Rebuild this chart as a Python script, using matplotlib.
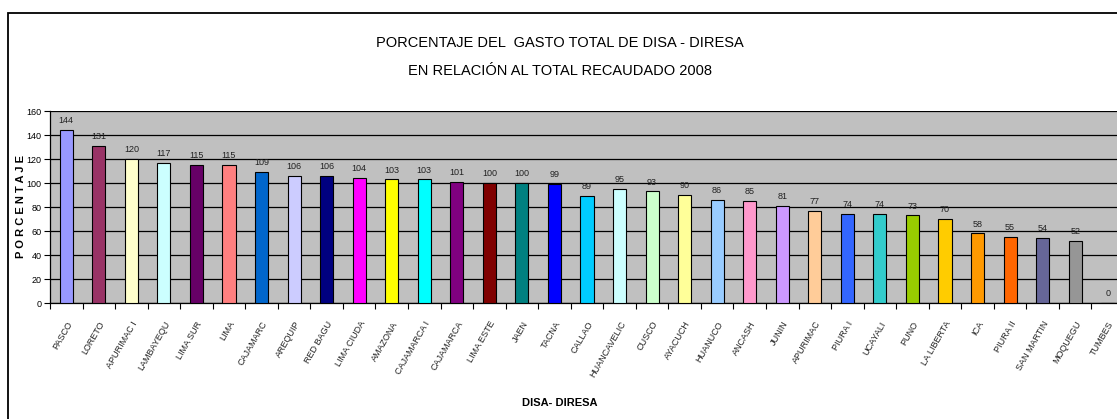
import matplotlib
matplotlib.use("Agg")
import matplotlib.pyplot as plt
from matplotlib.patches import Rectangle
import numpy as np

categories = ["PASCO", "LORETO", "APURIMAC I", "LAMBAYEQU", "LIMA SUR", "LIMA",
              "CAJAMARC", "AREQUIP", "RED BAGU", "LIMA CIUDA", "AMAZONA",
              "CAJAMARCA I", "CAJAMARCA", "LIMA ESTE", "JAEN", "TACNA", "CALLAO",
              "HUANCAVELIC", "CUSCO", "AYACUCH", "HUANUCO", "ANCASH", "JUNIN",
              "APURIMAC", "PIURA I", "UCAYALI", "PUNO", "LA LIBERTA", "ICA",
              "PIURA II", "SAN MARTIN", "MOQUEGU", "TUMBES"]
values = [144, 131, 120, 117, 115, 115, 109, 106, 106, 104, 103, 103, 101, 100,
          100, 99, 89, 95, 93, 90, 86, 85, 81, 77, 74, 74, 73, 70, 58, 55, 54, 52, 0]
colors = ["#9999FF", "#993366", "#FFFFCC", "#CCFFFF", "#660066", "#FF8080",
          "#0066CC", "#CCCCFF", "#000080", "#FF00FF", "#FFFF00", "#00FFFF",
          "#800080", "#800000", "#008080", "#0000FF", "#00CCFF", "#CCFFFF",
          "#CCFFCC", "#FFFF99", "#99CCFF", "#FF99CC", "#CC99FF", "#FFCC99",
          "#3366FF", "#33CCCC", "#99CC00", "#FFCC00", "#FF9900", "#FF6600",
          "#666699", "#969696", "#003366"]
yticks = [0, 20, 40, 60, 80, 100, 120, 140, 160]

FONT = ["Liberation Sans", "DejaVu Sans"]
plt.rcParams['font.family'] = FONT

W, H = 1117, 419
fig = plt.figure(figsize=(W / 100, H / 100), dpi=100)
fig.patch.set_facecolor("white")

# outer chart frame (extends past right and bottom edges)
top = 1 - 13 / H
fig.patches.append(Rectangle((8 / W, -0.2), 1.2, top + 0.2,
                             transform=fig.transFigure, fill=False,
                             edgecolor="black", linewidth=1.3, zorder=0))

ax = fig.add_axes([50 / W, 1 - 303 / H, (1124 - 50) / W, (303 - 111) / H])
ax.set_facecolor("#C0C0C0")
x = np.arange(len(categories))
ax.bar(x, values, width=0.4, color=colors, edgecolor="black", linewidth=0.8, zorder=3)

for xi, v in zip(x, values):
    ax.text(xi, v + 4, str(v), ha="center", va="bottom", fontsize=6.5,
            color="#222222", zorder=4)

ax.set_xlim(-0.5, len(categories) - 0.5)
ax.set_ylim(0, 160)
ax.set_yticks(yticks)
ax.set_yticklabels([str(t) for t in yticks], fontsize=6.5)
ax.yaxis.grid(True, color="black", linewidth=0.9, zorder=1)
ax.set_axisbelow(True)

ax.set_xticks(x)
ax.set_xticklabels(categories, rotation=60, ha="right", rotation_mode="anchor",
                   fontsize=6.5, color="#222222")
ax.tick_params(axis="x", which="major", length=0, pad=12)
ax.set_xticks(np.arange(len(categories) + 1) - 0.5, minor=True)
ax.tick_params(axis="x", which="minor", length=4, direction="out", width=0.8)
ax.tick_params(axis="y", length=4, width=0.8, pad=2)

for s in ["top", "right"]:
    ax.spines[s].set_visible(False)
ax.spines["left"].set_linewidth(0.9)
ax.spines["bottom"].set_linewidth(0.9)

fig.text(21 / W, 1 - 207 / H, "P O R C E N T A J E", rotation=90,
         ha="center", va="center", fontsize=8, fontweight="bold")
fig.text(560 / W, 1 - 403 / H, "DISA- DIRESA", ha="center", va="center",
         fontsize=8, fontweight="bold")

fig.text(560 / W, 1 - 43 / H, "PORCENTAJE DEL  GASTO TOTAL DE DISA - DIRESA",
         ha="center", va="center", fontsize=10.5)
fig.text(560 / W, 1 - 71 / H, "EN RELACIÓN AL TOTAL RECAUDADO 2008",
         ha="center", va="center", fontsize=10.5)

fig.savefig("out.png", dpi=100, facecolor="white")
